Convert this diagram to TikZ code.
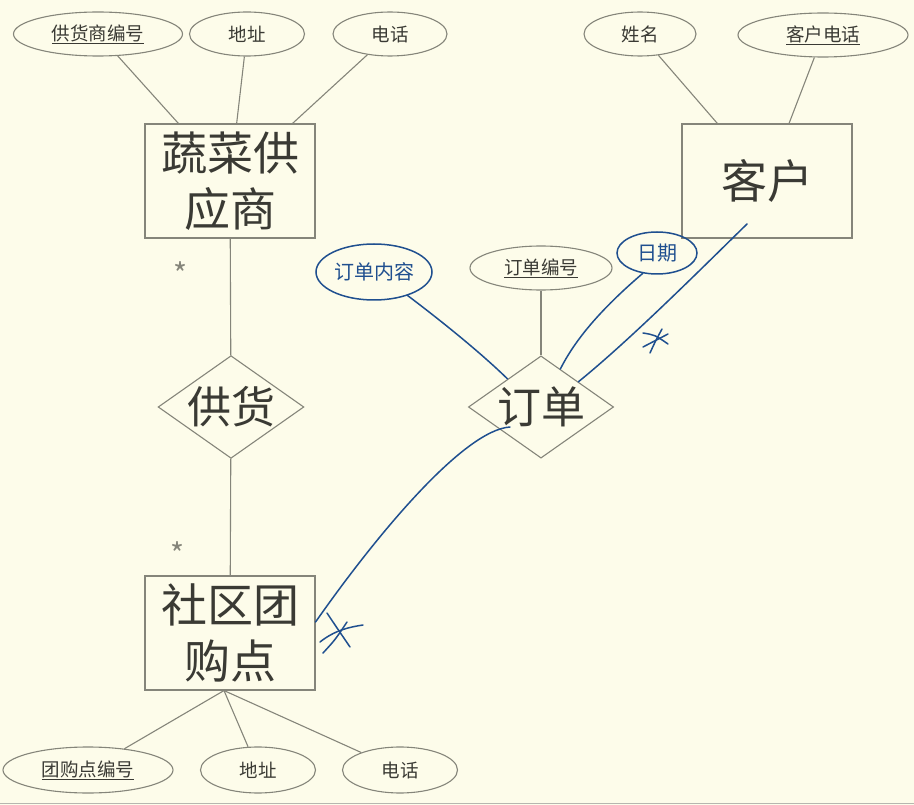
\documentclass[tikz,border=0pt]{standalone}
\usepackage{fontspec}
\setmainfont{Noto Sans CJK SC}
\usetikzlibrary{shapes.geometric}
\definecolor{bg}{HTML}{FDFCEA}
\definecolor{ln}{HTML}{85857A}
\definecolor{tx}{HTML}{3A3A34}
\definecolor{pen}{HTML}{1F4F8F}
\begin{document}
\begin{tikzpicture}[x=1pt,y=-1pt,
 attr/.style={ellipse,draw=ln,line width=1.1pt,inner sep=0pt,minimum height=44pt,text=tx,font=\fontsize{18.5}{20}\selectfont},
 ent/.style={rectangle,draw=ln,line width=1.1pt,minimum width=170pt,minimum height=114pt,inner sep=0pt,align=center,text=tx,font=\fontsize{46}{56}\selectfont},
 rel/.style={diamond,draw=ln,line width=1.1pt,inner sep=0pt,minimum width=143pt,minimum height=101pt,aspect=1.42,text=tx,font=\fontsize{44}{50}\selectfont},
 conn/.style={draw=ln,line width=1.1pt},
 ink/.style={draw=pen,line width=1.5pt,line cap=round},
 note/.style={ellipse,draw=pen,line width=1.5pt,inner sep=0pt,text=pen,font=\fontsize{20}{24}\selectfont},
 mult/.style={text=ln,font=\fontsize{30}{30}\selectfont,inner sep=0pt}]

\fill[bg] (0,0) rectangle (914,805);
\useasboundingbox (0,0) rectangle (914,805);

% supplier
\node[attr,minimum width=169pt] (s1) at (98,34) {\underline{供货商编号}};
\node[attr,minimum width=115pt] (s2) at (247,34) {地址};
\node[attr,minimum width=114pt] (s3) at (390,34) {电话};
\node[ent] (sup) at (230,181) {蔬菜供\\应商};

% customer
\node[attr,minimum width=112pt] (c1) at (640,34) {姓名};
\node[attr,minimum width=170pt] (c2) at (823,35) {\underline{客户电话}};
\node[ent] (cus) at (767,181) {客户};

% relations
\node[rel] (gh) at (231,407) {供货};
\node[rel] (dd) at (541,407) {订单};
\node[attr,minimum width=142pt] (o1) at (541,268) {\underline{订单编号}};

% group buying point
\node[ent] (grp) at (230,633) {社区团\\购点};
\node[attr,minimum width=170pt,minimum height=46pt] (g1) at (88,770) {\underline{团购点编号}};
\node[attr,minimum width=115pt,minimum height=46pt] (g2) at (258,770) {地址};
\node[attr,minimum width=115pt,minimum height=46pt] (g3) at (400,770) {电话};
\coordinate (gbot) at ([xshift=-6pt]grp.south);

% multiplicities
\node[mult] (m1) at (181,274) {*};
\node[mult] (m2) at (178,554) {*};

% connectors
\draw[conn] (s1) -- (sup);
\draw[conn] (s2) -- (sup);
\draw[conn] (s3) -- (sup);
\draw[conn] (c1) -- (cus);
\draw[conn] (c2) -- (cus);
\draw[conn] (sup) -- (gh);
\draw[conn] (gh) -- (grp);
\draw[conn] (o1) -- (dd);
\draw[conn] (gbot) -- (g1);
\draw[conn] (gbot) -- (g2);
\draw[conn] (gbot) -- (g3);

% handwritten notes
\node[note,minimum width=116pt,minimum height=56pt] (n1) at (374,272) {订单内容};
\node[note,minimum width=80pt,minimum height=42pt] (n2) at (657,253) {日期};

\coordinate (cusin) at ([shift={(-20pt,-43pt)}]cus.center);
\coordinate (ddin) at ([shift={(-31pt,-20pt)}]dd.center);
\coordinate (grpr) at ([yshift=11pt]grp.east);

\draw[ink] (n1.-35) .. controls (440,320) and (480,352) .. (dd.140);
\draw[ink] (n2.-125) .. controls (600,310) and (575,340) .. (dd.63);
\draw[ink] (cusin) .. controls (700,270) and (630,340) .. (dd.34);
\draw[ink] (ddin) .. controls (465,430) and (380,530) .. (grpr);

% hand-drawn marks
\draw[ink] (643,333) .. controls (655,335) .. (668,344);
\draw[ink] (650,353) .. controls (655,342) .. (662,329);
\draw[ink] (643,347) .. controls (655,340) .. (668,334);
\draw[ink] (327,613) .. controls (335,625) .. (350,647);
\draw[ink] (320,642) .. controls (335,630) and (350,627) .. (363,625);
\draw[ink] (323,653) .. controls (335,640) .. (347,622);

\draw[draw=ln!60,line width=1pt] (0,803) -- (914,803);
\end{tikzpicture}
\end{document}
